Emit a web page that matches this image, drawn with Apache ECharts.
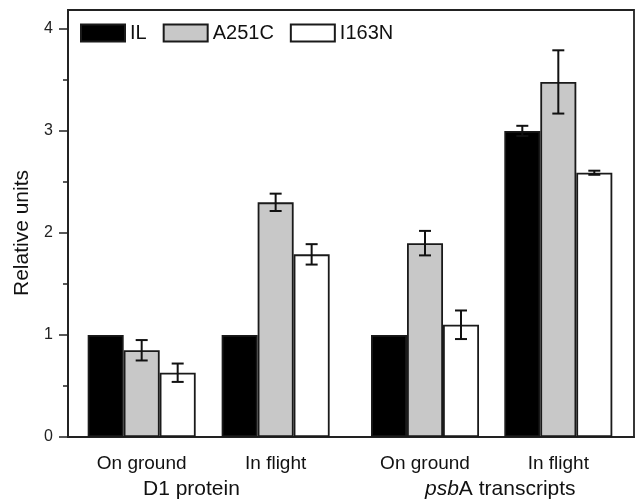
<!DOCTYPE html>
<html>
<head>
<meta charset="utf-8">
<script src="https://cdn.jsdelivr.net/npm/echarts@6/dist/echarts.min.js"></script>
<style>html,body{margin:0;padding:0;background:#fff}#c{width:637px;height:502px}</style>
</head>
<body>
<div id="c"></div>
<script>
const categories = ['On ground', 'In flight', 'On ground', 'In flight'];
const groupPositions = [1, 2, 3.115, 4.11];
const groupLabels = ['D1 protein', 'psbA transcripts'];
const yAxisName = 'Relative units';
const seriesNames = ['IL', 'A251C', 'I163N'];
const ilValues = [1.0, 1.0, 1.0, 3.0];
const ilErr = [0, 0, 0, 0.05];
const a251cValues = [0.85, 2.3, 1.9, 3.48];
const a251cErr = [0.1, 0.085, 0.12, 0.31];
const i163nValues = [0.63, 1.79, 1.1, 2.59];
const i163nErr = [0.09, 0.1, 0.14, 0.02];
const yTicks = [0, 1, 2, 3, 4];
const yMinorTicks = [0.5, 1.5, 2.5, 3.5];
const yMax = 4.185;

const BAR_W = 36;
const FONT = '"Liberation Sans", Arial, sans-serif';
const colors = ['#000000', '#c8c8c8', '#ffffff'];
const values = [ilValues, a251cValues, i163nValues];
const errs = [ilErr, a251cErr, i163nErr];

const chart = echarts.init(document.getElementById('c'), null, {renderer: 'canvas'});

const series = [];
seriesNames.forEach((name, i) => {
  series.push({
    name: name,
    type: 'bar',
    barWidth: BAR_W,
    barGap: '0%',
    itemStyle: {color: colors[i], borderColor: '#1a1a1a', borderWidth: 1.8},
    data: values[i].map((v, j) => [groupPositions[j], v]),
    z: 2
  });
});
seriesNames.forEach((name, i) => {
  const offset = (i - 1) * BAR_W;
  series.push({
    type: 'custom',
    name: name + ' err',
    z: 5,
    encode: {x: 0, y: 1},
    data: values[i].map((v, j) => [groupPositions[j], v, errs[i][j]]),
    renderItem: function (params, api) {
      const x = api.value(0), y = api.value(1), e = api.value(2);
      if (!e) return null;
      const t = api.coord([x, y + e]);
      const b = api.coord([x, y - e]);
      const cx = t[0] + offset;
      const hw = 6;
      const st = {stroke: '#111', lineWidth: 2};
      return {
        type: 'group',
        children: [
          {type: 'line', shape: {x1: cx, y1: t[1], x2: cx, y2: b[1]}, style: st},
          {type: 'line', shape: {x1: cx - hw, y1: t[1], x2: cx + hw, y2: t[1]}, style: st},
          {type: 'line', shape: {x1: cx - hw, y1: b[1], x2: cx + hw, y2: b[1]}, style: st}
        ]
      };
    }
  });
});

chart.setOption({
  animation: false,
  backgroundColor: '#fff',
  textStyle: {fontFamily: FONT},
  grid: {left: 68, right: 3, top: 10, bottom: 65, show: true, borderColor: '#222', borderWidth: 1.8, backgroundColor: 'transparent'},
  legend: {
    data: seriesNames,
    left: 75, top: 18,
    itemWidth: 44, itemHeight: 17, itemGap: 16,
    textStyle: {fontSize: 20, color: '#111', fontFamily: FONT},
    icon: 'rect'
  },
  xAxis: {
    type: 'value',
    min: 0.45, max: 4.675,
    splitLine: {show: false},
    axisLine: {show: true, lineStyle: {color: '#222', width: 1.8}},
    axisTick: {show: false},
    axisLabel: {
      customValues: groupPositions,
      formatter: function (v) {
        const idx = groupPositions.findIndex(p => Math.abs(p - v) < 1e-6);
        return idx >= 0 ? categories[idx] : '';
      },
      fontSize: 19, color: '#111', margin: 17, fontFamily: FONT
    }
  },
  yAxis: [{
    type: 'value',
    min: 0, max: yMax,
    splitLine: {show: false},
    axisLine: {show: true, lineStyle: {color: '#222', width: 1.8}},
    axisTick: {show: true, inside: false, length: 9, customValues: yTicks, lineStyle: {color: '#222', width: 1.5}},
    axisLabel: {customValues: yTicks, fontSize: 16, color: '#222', margin: 15, fontFamily: FONT}
  }, {
    type: 'value',
    position: 'left',
    min: 0, max: yMax,
    splitLine: {show: false},
    axisLine: {show: false},
    axisTick: {show: true, inside: false, length: 5, customValues: yMinorTicks, lineStyle: {color: '#222', width: 1.5}},
    axisLabel: {show: false}
  }],
  graphic: [
    {type: 'text', x: 22, y: 233, rotation: Math.PI / 2,
      style: {text: yAxisName, font: '21px ' + FONT, fill: '#111', align: 'center', verticalAlign: 'middle'}},
    {type: 'text', left: 143, top: 479, style: {text: groupLabels[0], font: '21px ' + FONT, fill: '#111'}},
    {type: 'text', left: 425, top: 479, style: {
      text: '{i|psb}A transcripts',
      font: '21px ' + FONT, fill: '#111',
      rich: {i: {fontStyle: 'italic', fontSize: 21, fontFamily: FONT, fill: '#111'}}
    }}
  ],
  series: series
});
</script>
</body>
</html>
